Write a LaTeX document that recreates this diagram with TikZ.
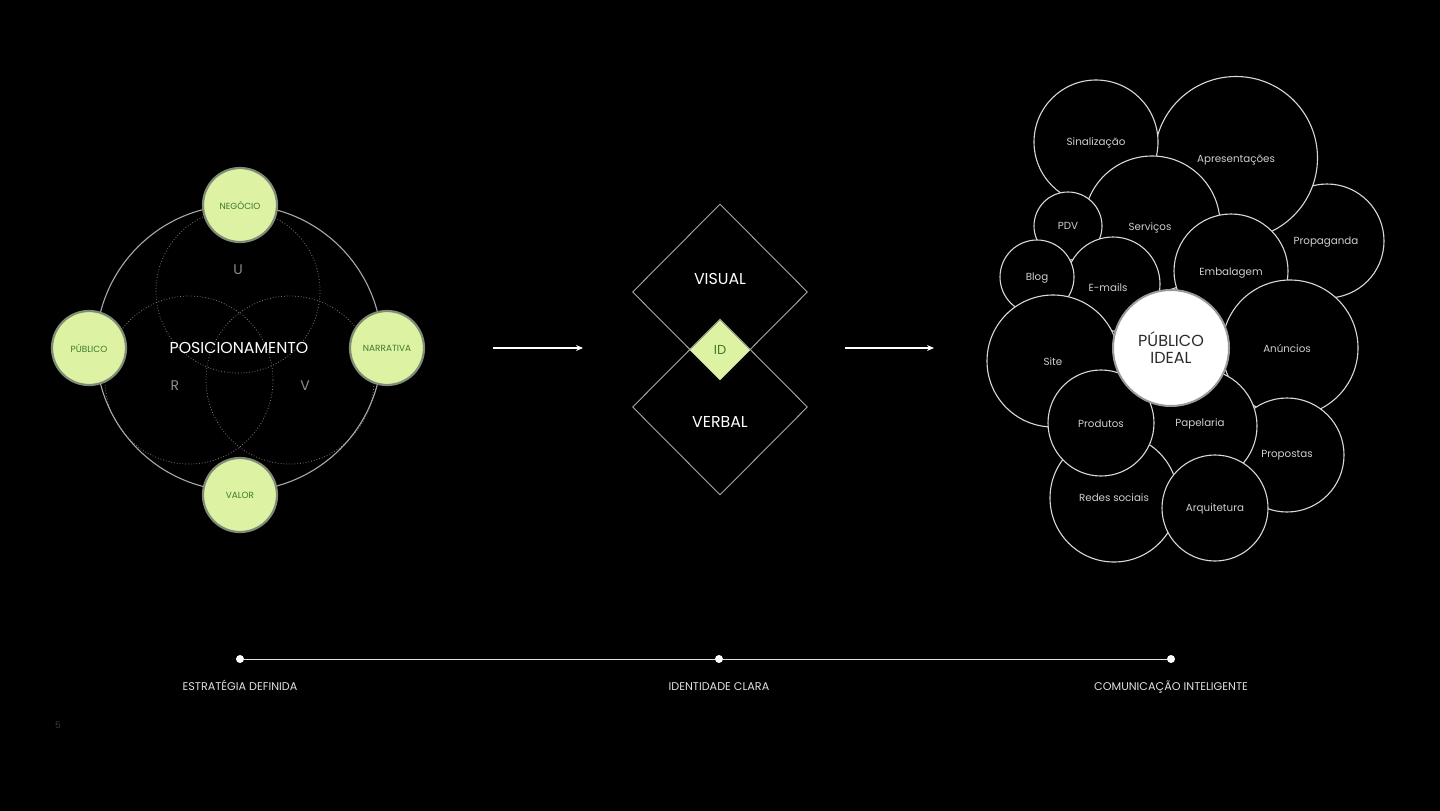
\documentclass[tikz,border=0pt]{standalone}
\usepackage{fontspec}
\setmainfont{Poppins}
\usetikzlibrary{shapes.geometric,arrows.meta}
\definecolor{limefill}{HTML}{DDF2A2}
\definecolor{limeedge}{HTML}{7E8C77}
\definecolor{limetext}{HTML}{3E7A2C}
\definecolor{ringgray}{HTML}{A8A8A8}
\definecolor{dotgray}{HTML}{7A7A7A}
\definecolor{softgray}{HTML}{8C8C8C}
\definecolor{bubbleline}{HTML}{D8D8D8}
\definecolor{bubbletext}{HTML}{CFCFCF}
\definecolor{labeltext}{HTML}{E0E0E0}
\definecolor{pagegray}{HTML}{3A3A3A}
\definecolor{darktext}{HTML}{2B2B2B}
\definecolor{idealedge}{HTML}{9A9A9A}
\newcommand\fsz[1]{\fontsize{#1}{#1}\selectfont}
\begin{document}
\begin{tikzpicture}[x=1pt,y=-1pt,
  venn/.style={circle, draw=dotgray, line width=0.8pt, dash pattern=on 0.8pt off 2pt, inner sep=0},
  bigring/.style={circle, draw=ringgray, line width=1.1pt, inner sep=0, text=white, font=\fsz{15.8}},
  letter/.style={text=softgray, font=\fsz{14}, inner sep=0},
  pillar/.style={circle, fill=limefill, draw=limeedge, line width=2.2pt, minimum size=74pt, inner sep=0, text=limetext, font=\fsz{8.9}},
  dia/.style={diamond, draw=ringgray, line width=0.9pt, minimum width=175pt, minimum height=176pt, inner sep=0},
  diatext/.style={text=white, font=\fsz{15.8}, inner sep=0},
  iddia/.style={diamond, fill=limefill, minimum width=60pt, minimum height=60pt, inner sep=0, text=limetext, font=\fsz{13}},
  flow/.style={draw=white, line width=1.1pt, -{Stealth[length=7pt,width=6pt]}},
  bubble/.style={circle, fill=black, draw=bubbleline, line width=1.1pt, inner sep=0, text=bubbletext, font=\fsz{10.3}},
  btext/.style={text=bubbletext, font=\fsz{10.3}, inner sep=0},
  ideal/.style={circle, fill=white, draw=idealedge, line width=2pt, inner sep=0, minimum size=116pt, text=darktext, font=\fontsize{16}{17}\selectfont, align=center},
  tdot/.style={circle, fill=white, minimum size=8pt, inner sep=0},
  tline/.style={draw=labeltext, line width=1pt},
  tlabel/.style={text=labeltext, font=\fsz{11.2}, inner sep=0, text height=8pt, text depth=0pt}
]
\fill[black] (0,0) rectangle (1440,811);
\path[use as bounding box] (0,0) rectangle (1440,811);

% ---------- left: positioning ----------
\node[venn, minimum size=164pt] (vu) at (238,291) {};
\node[venn, minimum size=168pt] (vr) at (189,380) {};
\node[venn, minimum size=168pt] (vv) at (290,380) {};
\node[bigring, minimum size=286pt] (pos) at (239,348) {POSICIONAMENTO};
\node[letter] (lu) at (238,270) {U};
\node[letter] (lr) at (175,386) {R};
\node[letter] (lv) at (305,386) {V};
\node[pillar] (neg) at (240,205) {NEGÓCIO};
\node[pillar] (pub) at (89,348) {PÚBLICO};
\node[pillar] (nar) at (387,348) {NARRATIVA};
\node[pillar] (val) at (240,495) {VALOR};

% ---------- arrows ----------
\coordinate (a1s) at (493,348);
\coordinate (a1e) at (583,348);
\coordinate (a2s) at (845,348);
\coordinate (a2e) at (934,348);
\draw[flow] (a1s) -- (a1e);
\draw[flow] (a2s) -- (a2e);

% ---------- middle: identity ----------
\node[dia] (vis) at (720,292) {};
\node[dia] (ver) at (720,407) {};
\node[iddia] (id) at (720,350) {ID};
\node[diatext] (vist) at (720,279) {VISUAL};
\node[diatext] (vert) at (720,422) {VERBAL};

% ---------- right: bubbles ----------
\node[bubble, minimum size=114pt] (prop) at (1327,241) {};
\node[bubble, minimum size=163pt] (apr) at (1236,158) {};
\node[bubble, minimum size=124pt] (sin) at (1096,142) {};
\node[bubble, minimum size=136pt] (ser) at (1152,224) {};
\node[bubble, minimum size=68pt] (pdv) at (1068,226) {};
\node[bubble, minimum size=94pt] (ema) at (1113,284) {};
\node[bubble, minimum size=74pt] (blog) at (1037,277) {};
\node[bubble, minimum size=114pt] (emb) at (1231,271) {};
\node[bubble, minimum size=136pt] (anu) at (1290,348) {};
\node[bubble, minimum size=114pt] (pro) at (1287,455) {};
\node[bubble, minimum size=114pt] (pap) at (1200,426) {};
\node[bubble, minimum size=128pt] (red) at (1114,498) {};
\node[bubble, minimum size=132pt] (site) at (1053,361) {};
\node[bubble, minimum size=106pt] (prd) at (1101,423) {};
\node[bubble, minimum size=106pt] (arq) at (1215,508) {};
\node[btext] at (1326,242) {Propaganda};
\node[btext] at (1236,160) {Apresentações};
\node[btext] at (1096,143) {Sinalização};
\node[btext] at (1150,228) {Serviços};
\node[btext] at (1068,226) {PDV};
\node[btext] at (1108,288) {E-mails};
\node[btext] at (1037,278) {Blog};
\node[btext] at (1231,273) {Embalagem};
\node[btext] at (1287,349) {Anúncios};
\node[btext] at (1287,455) {Propostas};
\node[btext] at (1200,424) {Papelaria};
\node[btext] at (1114,498) {Redes sociais};
\node[btext] at (1053,362) {Site};
\node[btext] at (1101,424) {Produtos};
\node[btext] at (1215,509) {Arquitetura};
\node[ideal] (pi) at (1171,348) {PÚBLICO\\IDEAL};

% ---------- timeline ----------
\node[tdot] (d1) at (240,659) {};
\node[tdot] (d2) at (719,659) {};
\node[tdot] (d3) at (1171,659) {};
\draw[tline] (d1) -- (d2) -- (d3);
\node[tlabel] (t1) at (240,686) {ESTRATÉGIA DEFINIDA};
\node[tlabel] (t2) at (719,686) {IDENTIDADE CLARA};
\node[tlabel] (t3) at (1171,686) {COMUNICAÇÃO INTELIGENTE};

\node[text=pagegray, font=\fsz{9}] (page) at (58,725) {5};
\end{tikzpicture}
\end{document}
